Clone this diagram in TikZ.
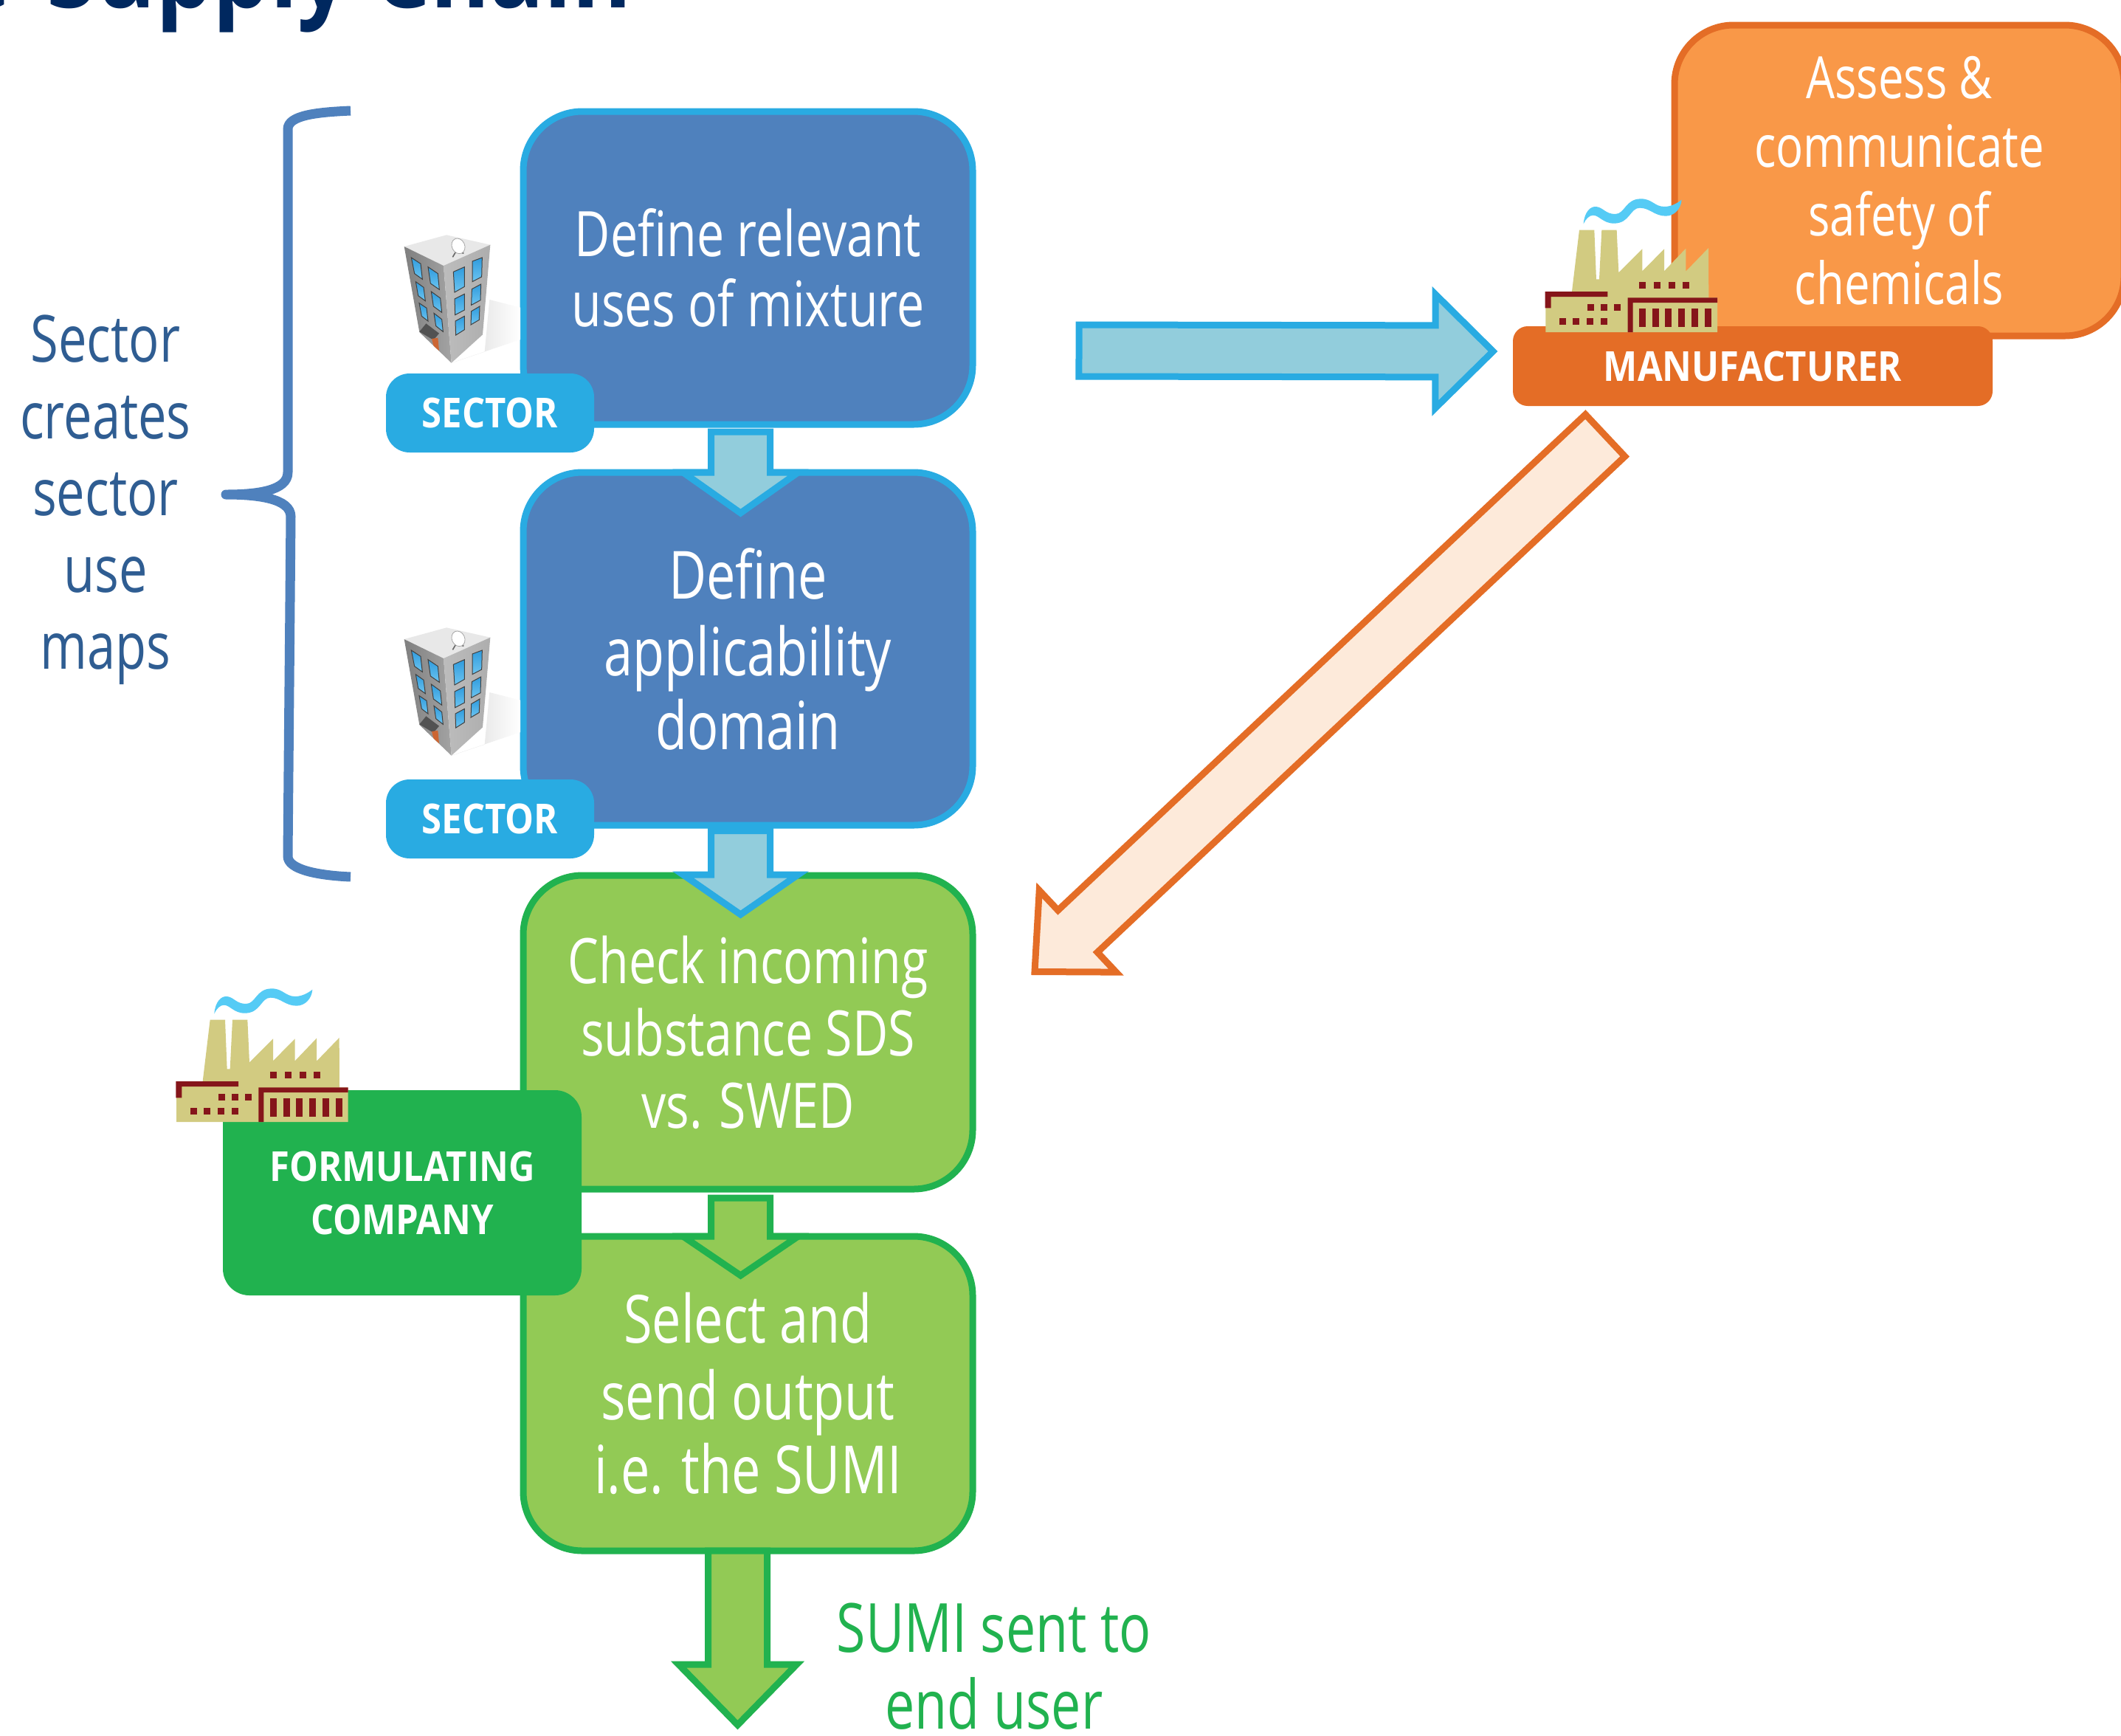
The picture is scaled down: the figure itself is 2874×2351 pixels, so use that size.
\documentclass[tikz,border=0pt]{standalone}
\usepackage{fontspec}
\setmainfont{Open Sans}[UprightFeatures={FakeStretch=0.78},BoldFeatures={FakeStretch=0.875}]
\usetikzlibrary{calc}
\definecolor{bluefill}{HTML}{4F81BD}
\definecolor{cyanline}{HTML}{29ABE2}
\definecolor{greenfill}{HTML}{92CA55}
\definecolor{greenline}{HTML}{21B24F}
\definecolor{orangefill}{HTML}{F99848}
\definecolor{orangeline}{HTML}{E46D26}
\definecolor{palearrow}{HTML}{92CDDC}
\definecolor{paleorange}{HTML}{FDEADA}
\definecolor{beige}{HTML}{D2CB81}
\definecolor{maroon}{HTML}{85151A}
\definecolor{smoke}{HTML}{55CBF5}
\definecolor{navy}{HTML}{00285F}
\definecolor{sidetext}{HTML}{2F5D92}
\definecolor{winblue}{HTML}{2F9BDD}
\definecolor{winlight}{HTML}{6CC4F0}
\tikzset{
  every node/.style={outer sep=0pt,inner sep=0pt,align=center},
  stepbase/.style={line width=4.5pt,rounded corners=40pt,text=white,minimum width=304.5pt},
  bluestep/.style={stepbase,draw=cyanline,fill=bluefill},
  greenstep/.style={stepbase,draw=greenline,fill=greenfill},
  orangestep/.style={stepbase,draw=orangeline,fill=orangefill},
  tagbase/.style={text=white,font=\bfseries\fontsize{28}{36}\selectfont,rounded corners=16pt},
  sectortag/.style={tagbase,fill=cyanline,minimum width=141pt,minimum height=53.5pt},
  bluearrow/.style={draw=cyanline,fill=palearrow,line width=4.5pt,miter limit=10},
  greenarrow/.style={draw=greenline,fill=greenfill,line width=4.5pt,miter limit=10},
  orangearrow/.style={draw=orangeline,fill=paleorange,line width=4.5pt,miter limit=10},
}
% style, from, to, shaft half width, head half width, head length
\newcommand{\blockarr}[6]{%
  \coordinate (hb) at ($(#3)!#6!(#2)$);
  \draw[#1] ($(#2)!#4!90:(#3)$) -- ($(hb)!#4!90:(#3)$) -- ($(hb)!#5!90:(#3)$) -- (#3)
    -- ($(hb)!#5!-90:(#3)$) -- ($(hb)!#4!-90:(#3)$) -- ($(#2)!#4!-90:(#3)$) -- cycle;
}
\newcommand{\factoryat}[2]{%
\begin{scope}[shift={(#1,#2)},x=0.166667pt,y=-0.166667pt]
  \fill[smoke] (211,190) .. controls (215,140) and (240,118) .. (262,120)
    .. controls (290,122) and (300,150) .. (340,150)
    .. controls (380,150) and (380,88) .. (445,88)
    .. controls (490,88) and (500,120) .. (540,120)
    .. controls (565,120) and (590,108) .. (610,92)
    .. controls (607,130) and (580,158) .. (545,158)
    .. controls (500,158) and (480,125) .. (440,125)
    .. controls (400,125) and (400,188) .. (335,188)
    .. controls (290,188) and (275,155) .. (250,155)
    .. controls (235,155) and (220,170) .. (211,190) -- cycle;
  \fill[beige] (164,465) -- (194,215) -- (255,215) -- (263,415) -- (275,415) -- (285,215) -- (346,215)
    -- (354,388) -- (450,292) -- (450,382) -- (539,292) -- (539,382) -- (627,290) -- (627,383) -- (719,288)
    -- (720,490) -- (755,490) -- (755,630) -- (57,630) -- (57,465) -- cycle;
  \fill[maroon] (55,465) -- (309,465) -- (309,486) -- (79,486) -- (79,532) -- (55,532) -- cycle;
  \fill[maroon] (391,490) -- (755,490) -- (755,510) -- (412,510) -- (412,630) -- (391,630) -- cycle;
  \foreach \qx in {438,498,558,615} \fill[maroon] (\qx,427) rectangle ++(27,27);
  \foreach \qx in {228,282,336} \fill[maroon] (\qx,517) rectangle ++(27,27);
  \foreach \qx in {114,168,225,282} \fill[maroon] (\qx,574) rectangle ++(27,27);
  \foreach \qx in {438,492,543,597,651,705} \fill[maroon] (\qx,535) rectangle ++(27,75);
\end{scope}}
\newcommand{\winq}[8]{%
  \path[top color=winblue,bottom color=winlight,draw=black!75,line width=0.5pt] (#1,#2) -- (#3,#4) -- (#5,#6) -- (#7,#8) -- cycle;}
\newcommand{\buildingat}[2]{%
\begin{scope}[shift={(#1,#2)},x=0.166667pt,y=-0.166667pt]
  \path[left color=black!16,right color=white] (335,635) -- (470,590) -- (490,378) -- (615,410) -- (615,540) -- cycle;
  \fill[black!9] (143,162) -- (315,115) -- (493,155) -- (303,240) -- cycle;
  \path[left color=black!50,right color=black!36] (143,162) -- (303,240) -- (335,635) -- (205,510) -- cycle;
  \path[left color=black!26,right color=black!32] (303,240) -- (493,155) -- (462,520) -- (335,635) -- cycle;
  \winq{172}{207}{210}{232}{217}{295}{185}{272}
  \winq{240}{245}{280}{272}{286}{337}{250}{312}
  \winq{190}{305}{222}{328}{229}{383}{200}{362}
  \winq{253}{345}{290}{372}{296}{430}{262}{405}
  \winq{204}{392}{234}{412}{240}{465}{214}{445}
  \winq{264}{433}{296}{458}{301}{508}{272}{485}
  \winq{343}{265}{388}{245}{388}{325}{348}{348}
  \winq{420}{222}{460}{207}{458}{285}{420}{305}
  \winq{348}{375}{388}{355}{388}{420}{350}{440}
  \winq{418}{335}{455}{315}{453}{380}{416}{400}
  \winq{351}{465}{388}{445}{388}{500}{353}{522}
  \winq{416}{425}{450}{405}{448}{460}{414}{480}
  \fill[black!68] (205,508) -- (232,475) -- (285,515) -- (262,542) -- cycle;
  \fill[brown!80!red] (255,537) -- (280,533) -- (285,586) -- (262,565) -- cycle;
  \draw[black!60,line width=0.8pt] (355,180) -- (340,205) (370,185) -- (385,190);
  \fill[white,draw=black!35,line width=0.4pt] (363,160) ellipse [x radius=26,y radius=32,rotate=25];
\end{scope}}
\begin{document}
\begin{tikzpicture}[x=0.5pt,y=-0.5pt]
\useasboundingbox (0,0) rectangle (2874,2351);
\clip (0,0) rectangle (2874,2351);
\fill[white] (0,0) rectangle (2874,2351);

\node[anchor=base west,text=navy,font=\bfseries\fontsize{70}{76}\selectfont] (title) at (-57,10) {e\hspace{24pt}Supply Chain};

% side brace and label
\draw[line width=6.5pt,draw=bluefill,line cap=butt,line join=round] (475,150)
  .. controls (430,152) and (390,156) .. (390,175) -- (390,640)
  .. controls (390,665) and (348,670) .. (306,670)
  .. controls (348,670) and (394,675) .. (394,700) -- (390,1160)
  .. controls (390,1178) and (430,1186) .. (475,1188);
\node[text=sidetext,font=\fontsize{44}{52}\selectfont] (side) at (143,677) {Sector\\creates\\sector\\use\\maps};

% steps
\node[bluestep,minimum height=212pt,font=\fontsize{42.5}{47.5}\selectfont] (box1) at (1013.5,363) {Define relevant\\uses of mixture};
\node[bluestep,minimum height=239pt,font=\fontsize{45}{50}\selectfont] (box2) at (1013.5,879) {Define\\[2pt]applicability\\domain};
\node[greenstep,minimum height=212.5pt,font=\fontsize{42.5}{49}\selectfont] (box3) at (1013.5,1398.5) {Check incoming\\substance SDS\\vs. SWED};
\node[greenstep,minimum height=213pt,font=\fontsize{45}{50}\selectfont] (box4) at (1013.5,1888) {Select and\\[2pt]send output\\i.e. the SUMI};

% step arrows
\coordinate (a1s) at ([xshift=-5pt,yshift=-5pt]box1.south);
\coordinate (a1e) at ([xshift=-5pt,yshift=-27.5pt]box2.north);
\blockarr{bluearrow}{a1s}{a1e}{20pt}{39pt}{27.5pt}
\coordinate (a2s) at ([xshift=-5pt,yshift=-3.75pt]box2.south);
\coordinate (a2e) at ([xshift=-5pt,yshift=-26.5pt]box3.north);
\blockarr{bluearrow}{a2s}{a2e}{20pt}{39pt}{27pt}
\coordinate (a3s) at ([xshift=-5pt,yshift=-6pt]box3.south);
\coordinate (a3e) at ([xshift=-5pt,yshift=-26.5pt]box4.north);
\blockarr{greenarrow}{a3s}{a3e}{20pt}{39pt}{26.5pt}
\coordinate (a4s) at ([xshift=-7pt]box4.south);
\coordinate (a4e) at ([xshift=-7pt,yshift=-118pt]box4.south);
\blockarr{greenarrow}{a4s}{a4e}{20pt}{40pt}{41pt}

% sector tags and buildings
\buildingat{500}{280}
\node[sectortag] (tag1) at (664,559.5) {SECTOR};
\buildingat{500}{812}
\node[sectortag] (tag2) at (664,1109.5) {SECTOR};

% formulating company
\node[tagbase,fill=greenline,minimum width=243pt,minimum height=139pt,rounded corners=18pt] (formtag) at (545,1616) {FORMULATING\\COMPANY};
\factoryat{220}{1310}

% manufacturer
\node[orangestep,minimum height=210.5pt,anchor=north west,font=\fontsize{39.5}{46.5}\selectfont] (assess) at (2269,34) {Assess \&\\communicate\\safety of\\chemicals};
\node[tagbase,fill=orangeline,minimum width=325pt,minimum height=54pt,rounded corners=10pt] (mtag) at (2375,496) {MANUFACTURER};
\factoryat{2075.3}{240}

% arrows between actors
\coordinate (a5s) at ([xshift=72pt,yshift=-56pt]box1.east);
\coordinate (a5e) at ([xshift=-13.5pt,yshift=10pt]mtag.west);
\blockarr{bluearrow}{a5s}{a5e}{17.5pt}{38.5pt}{39pt}
\coordinate (a6s) at ([xshift=-100pt,yshift=-20pt]mtag.south);
\coordinate (a6e) at ([xshift=42pt,yshift=41pt]box3.east);
\blockarr{orangearrow}{a6s}{a6e}{19.5pt}{38pt}{40pt}

\node[text=greenline,font=\fontsize{46}{52}\selectfont] (sumi) at (1347,2258) {SUMI sent to\\end user};
\end{tikzpicture}
\end{document}
